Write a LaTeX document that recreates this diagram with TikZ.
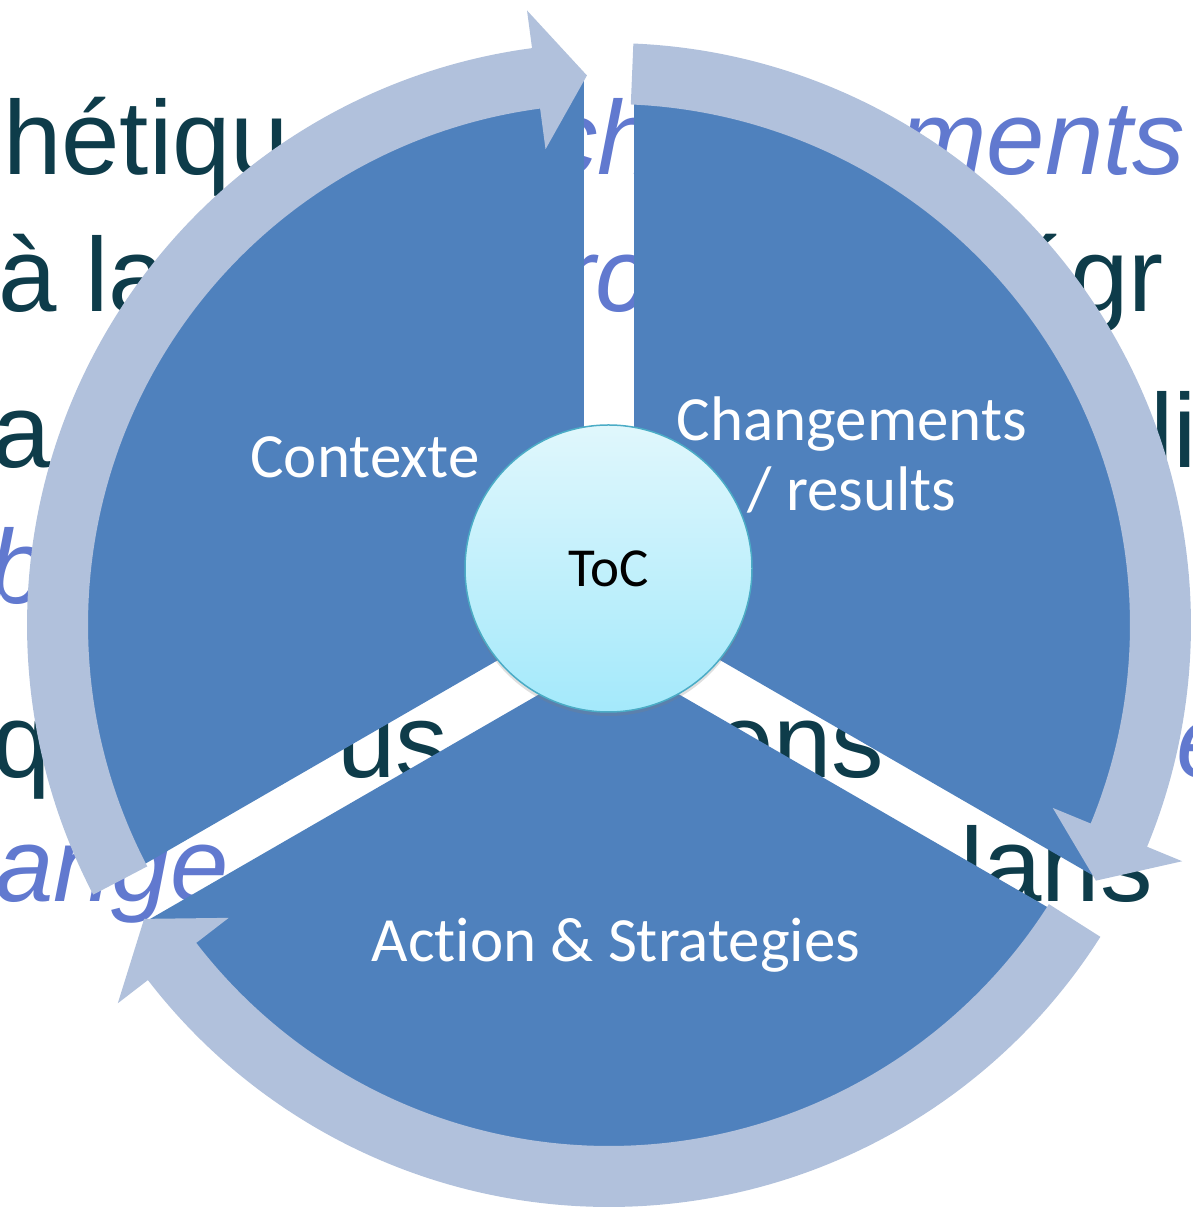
\documentclass[tikz,border=0pt]{standalone}
\usepackage{fontspec}
\setmainfont{Carlito}[Ligatures=NoCommon]
\newfontfamily\bgfont{Liberation Sans}
\usetikzlibrary{calc,shadows}
\definecolor{wedgeblue}{RGB}{79,129,189}
\definecolor{arrowblue}{RGB}{177,193,220}
\definecolor{bgdark}{RGB}{14,60,74}
\definecolor{bgblue}{RGB}{97,121,207}
\definecolor{tocborder}{RGB}{75,172,198}
\definecolor{toctop}{RGB}{224,247,252}
\definecolor{tocbottom}{RGB}{164,233,251}

\begin{document}
\begin{tikzpicture}[x=1pt, y=1pt]
    \tikzstyle{bgtext}=[inner sep=0, anchor=base west, text=bgdark, font=\bgfont\fontsize{105}{110}\selectfont]
    \tikzstyle{bgitalic}=[bgtext, text=bgblue, font=\bgfont\itshape\fontsize{105}{110}\selectfont]
    \tikzstyle{wedge}=[fill=wedgeblue]
    \tikzstyle{cyclearrow}=[fill=arrowblue]
    \tikzstyle{label}=[text=white, align=center, font=\fontsize{63}{70}\selectfont]
    \useasboundingbox (0,0) rectangle (1192,1210);
    \coordinate (A) at (609,585);

    \node[bgtext] (l1a) at (3,1035) {hétiqu};
    \node[bgitalic] (l1b) at (545,1035) {ch};
    \node[bgitalic] (l1c) at (899,1035) {ments};
    \node[bgtext] (l2a) at (-2,898) {à la};
    \node[bgitalic] (l2b) at (560,898) {rc};
    \node[bgtext] (l2c) at (1012,898) {égr};
    \node[bgtext] (l3a) at (-8,742) {a};
    \node[bgtext] (l3b) at (1150,742) {li};
    \node[bgitalic] (l4a) at (-12,606) {bj};
    \node[bgtext] (l5a) at (-8,432) {qu};
    \node[bgtext] (l5b) at (337,432) {us};
    \node[bgtext] (l5c) at (715,432) {ens};
    \node[bgitalic] (l5d) at (1176,432) {e};
    \node[bgitalic] (l6a) at (-5,308) {ange};
    \node[bgtext] (l6b) at (960,308) {lans};

    \foreach \m in {150,30,270}{
      \pgfmathsetmacro\s{\m+60}
      \pgfmathsetmacro\e{\m-60}
      \fill[wedge] ($(A)+(\m:29)$) -- ++(\s:530) arc[start angle=\s, end angle=\e, radius=530] -- cycle;
    }

    \foreach \t/\h in {207.6/92.3, 87.6/-27.7, -32.4/-147.7}{
      \pgfmathsetmacro\b{\h+5.3}
      \fill[cyclearrow] ($(A)+(\t:582)$) arc[start angle=\t, end angle=\b, radius=582]
        -- ($(A)+(\b:620)$) -- ($(A)+(\h:550)$) -- ($(A)+(\b:480)$) -- ($(A)+(\b:521)$)
        arc[start angle=\b, end angle=\t, radius=521] -- cycle;
    }

    \node[circle, minimum size=287pt, draw=tocborder, line width=1.5pt, top color=toctop, bottom color=tocbottom,
      drop shadow={shadow xshift=0pt, shadow yshift=-4pt, opacity=0.25},
      font=\fontsize{55}{60}\selectfont] (toc) at (608.5,641.5) {ToC};

    \node[label] (ctx) at (365,753) {Contexte};
    \node[label] (chg) at (852,755) {Changements\\/ results};
    \node[label] (act) at (616,265) {Act\kern0pt ion \& Strategies};
\end{tikzpicture}
\end{document}
